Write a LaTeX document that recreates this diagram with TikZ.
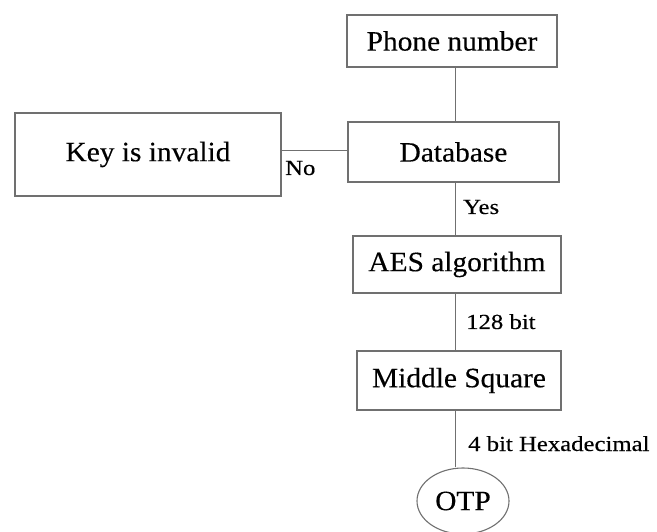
\documentclass[tikz,border=0pt]{standalone}
\usepackage{fontspec}
\setmainfont{Liberation Serif}[FakeStretch=1.05, FakeBold=0.3]
\newfontfamily\lblfont{Liberation Serif}[FakeStretch=1.15, FakeBold=0.3]
\usetikzlibrary{shapes.geometric}
\definecolor{edge}{HTML}{707070}
\tikzset{
  x=1pt, y=-1pt,
  box/.style={draw=edge, line width=1.1pt, inner sep=0pt, align=center,
    font=\fontsize{28}{31}\selectfont, text=black},
  oval/.style={ellipse, draw=edge, line width=1.1pt, inner sep=0pt,
    font=\fontsize{28}{31}\selectfont, text=black},
  conn/.style={draw=edge, line width=1.1pt},
  lbl/.style={anchor=base west, inner sep=0pt, font=\lblfont\fontsize{21.5}{24}\selectfont, text=black}
}
\begin{document}
\begin{tikzpicture}
\useasboundingbox (0,0) rectangle (657,532);
\node[box, minimum width=210pt, minimum height=52pt] (phone) at (452,41) {Phone number};
\node[box, minimum width=266pt, minimum height=83pt] (key) at (148,154.5) {Key is invalid};
\node[box, minimum width=211pt, minimum height=60pt] (db) at (453.5,152) {Database};
\node[box, minimum width=208pt, minimum height=57pt] (aes) at (457,264.5) {AES algorithm};
\node[box, minimum width=204pt, minimum height=59pt] (ms) at (459,380.5) {Middle Square};
\node[oval, minimum width=92pt, minimum height=66pt] (otp) at (463,501) {OTP};
\coordinate (spine) at (455.5,0);
\coordinate (nol) at (0,150.5);
\draw[conn] (phone.south -| spine) -- (db.north -| spine);
\draw[conn] (key.east |- nol) -- (db.west |- nol);
\draw[conn] (db.south -| spine) -- (aes.north -| spine);
\draw[conn] (aes.south -| spine) -- (ms.north -| spine);
\draw[conn] (ms.south -| spine) -- (otp.north -| spine);
\node[lbl] (no) at (285,175) {No};
\node[lbl] (yes) at (463,214) {Yes};
\node[lbl] (b128) at (466,329) {128 bit};
\node[lbl] (hex) at (468,451) {4 bit Hexadecimal};
\end{tikzpicture}
\end{document}
